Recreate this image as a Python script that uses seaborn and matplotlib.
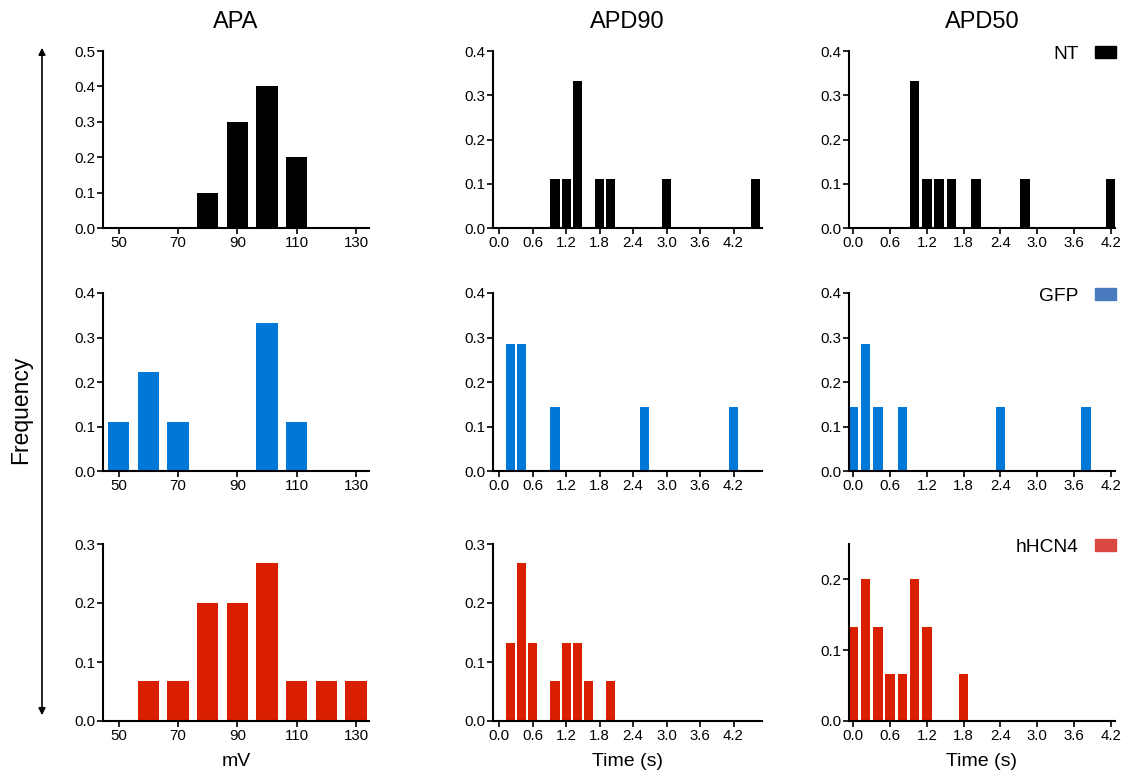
import numpy as np
import pandas as pd
import matplotlib
matplotlib.use("Agg")
import matplotlib.pyplot as plt
import seaborn as sns
from matplotlib.patches import Patch, FancyArrowPatch

sns.set_style("ticks")
plt.rcParams['font.family'] = ['Liberation Sans', 'DejaVu Sans']
plt.rcParams['text.color'] = 'black'
plt.rcParams['axes.labelcolor'] = 'black'
plt.rcParams['xtick.color'] = 'black'
plt.rcParams['ytick.color'] = 'black'
plt.rcParams['axes.edgecolor'] = 'black'

groups = ["NT", "GFP", "hHCN4"]
measures = ["APA", "APD90", "APD50"]
bar_colors = ["#000000", "#0078d7", "#d91f00"]
legend_colors = ["#000000", "#4a7bc1", "#d94842"]

# --- data (bin centres / relative frequency) ---
nt_apa_x = [80, 90, 100, 110]
nt_apa_y = [0.1, 0.3, 0.4, 0.2]
nt_apd90_x = [1.0, 1.2, 1.4, 1.8, 2.0, 3.0, 4.6]
nt_apd90_y = [0.111, 0.111, 0.333, 0.111, 0.111, 0.111, 0.111]
nt_apd50_x = [1.0, 1.2, 1.4, 1.6, 2.0, 2.8, 4.2]
nt_apd50_y = [0.333, 0.111, 0.111, 0.111, 0.111, 0.111, 0.111]

gfp_apa_x = [50, 60, 70, 100, 110]
gfp_apa_y = [0.111, 0.222, 0.111, 0.333, 0.111]
gfp_apd90_x = [0.2, 0.4, 1.0, 2.6, 4.2]
gfp_apd90_y = [0.286, 0.286, 0.143, 0.143, 0.143]
gfp_apd50_x = [0.0, 0.2, 0.4, 0.8, 2.4, 3.8]
gfp_apd50_y = [0.143, 0.286, 0.143, 0.143, 0.143, 0.143]

hcn_apa_x = [60, 70, 80, 90, 100, 110, 120, 130]
hcn_apa_y = [0.067, 0.067, 0.2, 0.2, 0.267, 0.067, 0.067, 0.067]
hcn_apd90_x = [0.2, 0.4, 0.6, 1.0, 1.2, 1.4, 1.6, 2.0]
hcn_apd90_y = [0.133, 0.267, 0.133, 0.067, 0.133, 0.133, 0.067, 0.067]
hcn_apd50_x = [0.0, 0.2, 0.4, 0.6, 0.8, 1.0, 1.2, 1.8]
hcn_apd50_y = [0.133, 0.2, 0.133, 0.067, 0.067, 0.2, 0.133, 0.067]

apa_ticks = [50, 70, 90, 110, 130]
apd_ticks = [0.0, 0.6, 1.2, 1.8, 2.4, 3.0, 3.6, 4.2]
ymax_rows = [[0.5, 0.4, 0.4], [0.4, 0.4, 0.4], [0.3, 0.3, 0.25]]

data = [
    [(nt_apa_x, nt_apa_y), (nt_apd90_x, nt_apd90_y), (nt_apd50_x, nt_apd50_y)],
    [(gfp_apa_x, gfp_apa_y), (gfp_apd90_x, gfp_apd90_y), (gfp_apd50_x, gfp_apd50_y)],
    [(hcn_apa_x, hcn_apa_y), (hcn_apd90_x, hcn_apd90_y), (hcn_apd50_x, hcn_apd50_y)],
]

W, H = 1124, 771
fig = plt.figure(figsize=(W / 100, H / 100), dpi=100)

col_left = [103, 493, 849]
col_width = [266, 269, 266]
row_top = [51, 293, 544]
row_bot = [228, 471, 721]
xlims = [(44.7, 134.4), (-0.11, 4.71), (-0.07, 4.27)]
widths = [0.72, 0.82, 0.78]

for r in range(3):
    for c in range(3):
        ax = fig.add_axes([col_left[c] / W, 1 - row_bot[r] / H,
                           col_width[c] / W, (row_bot[r] - row_top[r]) / H])
        xs, ys = data[r][c]
        df = pd.DataFrame({"x": xs, "y": ys})
        sns.barplot(data=df, x="x", y="y", native_scale=True, orient="x",
                    color=bar_colors[r], saturation=1, width=widths[c],
                    errorbar=None, linewidth=0, ax=ax)
        ax.set_xlim(*xlims[c])
        ax.set_ylim(0, ymax_rows[r][c])
        ax.set_xticks(apa_ticks if c == 0 else apd_ticks)
        if c == 0:
            ax.set_xticklabels([str(t) for t in apa_ticks])
        else:
            ax.set_xticklabels([f"{t:.1f}" for t in apd_ticks])
        yt = np.arange(0, ymax_rows[r][c] + 1e-9, 0.1)
        ax.set_yticks(yt)
        ax.set_yticklabels([f"{t:.1f}" for t in yt])
        ax.set_xlabel("")
        ax.set_ylabel("")
        sns.despine(ax=ax)
        for s in ["left", "bottom"]:
            ax.spines[s].set_linewidth(1.5)
            ax.spines[s].set_color("black")
        ax.tick_params(axis="both", direction="out", length=4, width=1.2,
                       labelsize=10.8, pad=1.5, colors="black")
        if c == 2:
            leg = ax.legend(handles=[Patch(color=legend_colors[r], label=groups[r])],
                            loc="upper right",
                            bbox_to_anchor=(1116 / W, 1 - (row_top[r] - 5) / H),
                            bbox_transform=fig.transFigure, frameon=False,
                            markerfirst=False, borderpad=0, borderaxespad=0,
                            handlelength=1.1, handleheight=0.6, handletextpad=0.85,
                            fontsize=13.8)
            for t in leg.get_texts():
                t.set_color("black")

# column titles
for c, m in enumerate(measures):
    fig.text((col_left[c] + col_width[c] / 2) / W, 1 - 22 / H, m,
             ha="center", va="center", fontsize=17, color="black")

# x labels
xlabels = ["mV", "Time (s)", "Time (s)"]
for c, lab in enumerate(xlabels):
    fig.text((col_left[c] + col_width[c] / 2) / W, 1 - 761 / H, lab,
             ha="center", va="center", fontsize=14, color="black")

# Frequency label and arrow
fig.text(21 / W, 1 - 410 / H, "Frequency", rotation=90,
         ha="center", va="center", fontsize=16.5, color="black")
arrow = FancyArrowPatch((42 / W, 1 - 45 / H), (42 / W, 1 - 718 / H),
                        transform=fig.transFigure, arrowstyle="<|-|>",
                        mutation_scale=10, lw=1.2, color="black")
fig.add_artist(arrow)

fig.savefig("out.png", dpi=100)
